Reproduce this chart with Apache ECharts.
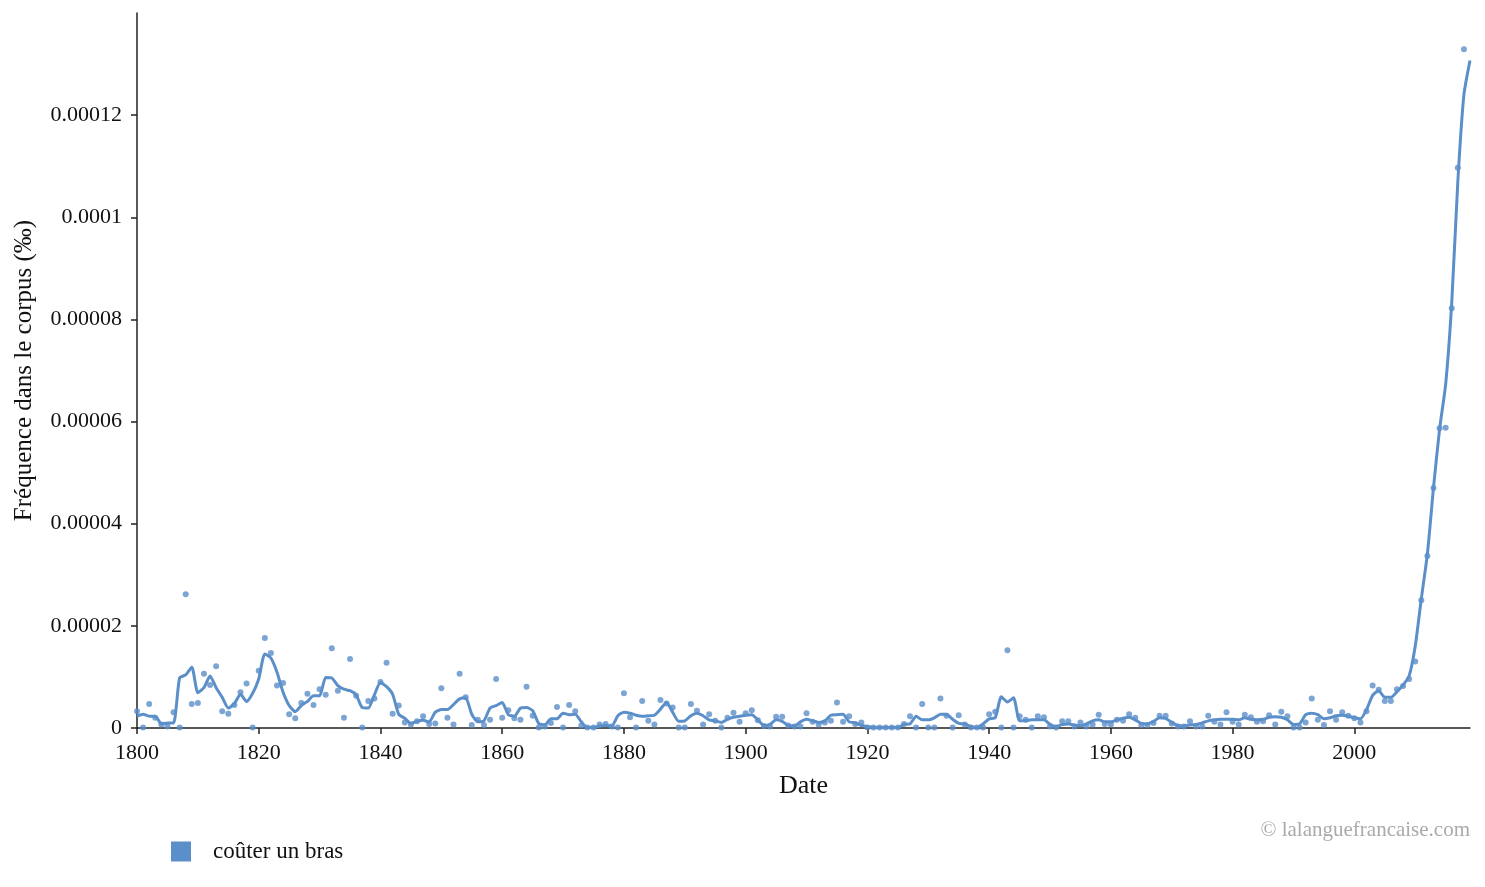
<!DOCTYPE html>
<html>
<head>
<meta charset="utf-8">
<script src="https://cdn.jsdelivr.net/npm/echarts@6/dist/echarts.min.js"></script>
<style>
  html, body { margin: 0; padding: 0; background: #fff; }
  #chart { width: 1485px; height: 887px; }
</style>
</head>
<body>
<div id="chart"></div>
<script>
// values are in units of 1e-5 ‰, one per year
const FIRST_YEAR = 1800
const UNIT = 1e-5

// yearly points (1800-2018)
const yearlyValues = [
  0.33, 0.01, 0.47, 0.20, 0.07, 0.03, 0.31, 0.01, 2.62, 0.47,
  0.49, 1.06, 0.84, 1.21, 0.33, 0.28, 0.45, 0.70, 0.87, 0.01,
  1.12, 1.76, 1.47, 0.83, 0.88, 0.27, 0.19, 0.49, 0.67, 0.45,
  0.76, 0.65, 1.56, 0.73, 0.20, 1.35, 0.63, 0.01, 0.53, 0.58,
  0.90, 1.28, 0.28, 0.44, 0.11, 0.07, 0.13, 0.23, 0.08, 0.09,
  0.78, 0.20, 0.07, 1.06, 0.60, 0.06, 0.16, 0.06, 0.16, 0.96,
  0.20, 0.35, 0.19, 0.16, 0.81, 0.24, 0.01, 0.03, 0.10, 0.41,
  0.01, 0.45, 0.33, 0.05, 0.01, 0.01, 0.07, 0.08, 0.03, 0.01,
  0.68, 0.21, 0.01, 0.53, 0.14, 0.07, 0.55, 0.48, 0.40, 0.01,
  0.01, 0.47, 0.34, 0.07, 0.27, 0.14, 0.01, 0.20, 0.30, 0.12,
  0.29, 0.35, 0.15, 0.04, 0.03, 0.22, 0.22, 0.05, 0.03, 0.03,
  0.29, 0.12, 0.07, 0.11, 0.14, 0.50, 0.12, 0.23, 0.08, 0.11,
  0.01, 0.01, 0.01, 0.01, 0.01, 0.01, 0.08, 0.23, 0.01, 0.47,
  0.01, 0.01, 0.58, 0.24, 0.01, 0.25, 0.07, 0.01, 0.01, 0.01,
  0.27, 0.32, 0.01, 1.52, 0.01, 0.23, 0.16, 0.01, 0.23, 0.21,
  0.03, 0.01, 0.13, 0.13, 0.03, 0.11, 0.03, 0.07, 0.26, 0.08,
  0.07, 0.16, 0.14, 0.27, 0.20, 0.06, 0.06, 0.10, 0.24, 0.24,
  0.09, 0.03, 0.03, 0.13, 0.03, 0.03, 0.24, 0.12, 0.07, 0.31,
  0.12, 0.07, 0.26, 0.21, 0.12, 0.13, 0.25, 0.07, 0.32, 0.23,
  0.01, 0.01, 0.11, 0.58, 0.16, 0.06, 0.33, 0.16, 0.31, 0.24,
  0.19, 0.11, 0.33, 0.83, 0.75, 0.53, 0.53, 0.76, 0.82, 0.96,
  1.30, 2.50, 3.37, 4.70, 5.87, 5.88, 8.22, 10.97, 13.29
]

// smoothed curve (1800-2019)
const smoothValues = [
  0.23, 0.27, 0.23, 0.23, 0.08, 0.10, 0.10, 0.98, 1.04, 1.19,
  0.69, 0.79, 1.02, 0.79, 0.60, 0.39, 0.48, 0.66, 0.52, 0.68,
  0.96, 1.45, 1.37, 1.09, 0.70, 0.44, 0.32, 0.44, 0.52, 0.63,
  0.63, 0.99, 0.98, 0.83, 0.76, 0.73, 0.65, 0.40, 0.39, 0.65,
  0.89, 0.81, 0.66, 0.27, 0.19, 0.09, 0.13, 0.15, 0.12, 0.31,
  0.36, 0.36, 0.46, 0.57, 0.59, 0.27, 0.12, 0.14, 0.39, 0.44,
  0.50, 0.26, 0.23, 0.39, 0.40, 0.34, 0.09, 0.06, 0.18, 0.18,
  0.29, 0.26, 0.27, 0.12, 0.01, 0.01, 0.04, 0.05, 0.04, 0.24,
  0.31, 0.29, 0.25, 0.23, 0.24, 0.25, 0.37, 0.50, 0.31, 0.13,
  0.14, 0.24, 0.29, 0.24, 0.16, 0.14, 0.11, 0.17, 0.21, 0.23,
  0.25, 0.26, 0.16, 0.05, 0.07, 0.16, 0.13, 0.05, 0.04, 0.12,
  0.17, 0.14, 0.11, 0.14, 0.25, 0.26, 0.27, 0.12, 0.10, 0.05,
  0.03, 0.01, 0.01, 0.01, 0.01, 0.01, 0.07, 0.08, 0.23, 0.16,
  0.16, 0.20, 0.27, 0.27, 0.17, 0.09, 0.08, 0.03, 0.01, 0.08,
  0.18, 0.20, 0.61, 0.51, 0.59, 0.14, 0.14, 0.16, 0.16, 0.16,
  0.07, 0.03, 0.07, 0.08, 0.06, 0.04, 0.08, 0.14, 0.16, 0.12,
  0.12, 0.16, 0.19, 0.21, 0.16, 0.09, 0.08, 0.13, 0.20, 0.19,
  0.11, 0.05, 0.04, 0.06, 0.07, 0.10, 0.14, 0.16, 0.17, 0.17,
  0.17, 0.16, 0.20, 0.17, 0.16, 0.17, 0.21, 0.22, 0.21, 0.16,
  0.07, 0.08, 0.26, 0.29, 0.26, 0.18, 0.20, 0.24, 0.25, 0.23,
  0.20, 0.18, 0.36, 0.64, 0.73, 0.60, 0.60, 0.71, 0.84, 1.02,
  1.60, 2.53, 3.41, 4.70, 5.85, 6.73, 8.33, 10.70, 12.40, 13.07
]

const xTicks = [1800, 1820, 1840, 1860, 1880, 1900, 1920, 1940, 1960, 1980, 2000]
const yTicks = [0, 0.00002, 0.00004, 0.00006, 0.00008, 0.0001, 0.00012]

const seriesName = 'coûter un bras'
const BLUE = '#5b8fc9'
const FONT = '"Liberation Serif", "Times New Roman", serif'

const toPairs = (vals) => vals.map((v, i) => [FIRST_YEAR + i, v * UNIT])

const chart = echarts.init(document.getElementById('chart'), null, { renderer: 'canvas' })

chart.setOption({
  backgroundColor: '#fff',
  animation: false,
  textStyle: { fontFamily: FONT },
  grid: { left: 137, right: 15, top: 13, bottom: 159, containLabel: false },
  legend: {
    left: 166,
    top: 835,
    icon: 'rect',
    itemWidth: 20,
    itemHeight: 20,
    data: [seriesName],
    textStyle: { fontFamily: FONT, fontSize: 23, color: '#111', padding: [0, 0, 0, 17] }
  },
  graphic: [{
    type: 'text',
    right: 15,
    top: 820,
    style: { text: '© lalanguefrancaise.com', fill: '#aaa', font: '21px ' + FONT }
  }],
  xAxis: {
    type: 'value',
    min: 1800,
    max: 2019,
    name: 'Date',
    nameLocation: 'middle',
    nameGap: 45,
    nameTextStyle: { fontFamily: FONT, fontSize: 26, color: '#111' },
    axisLine: { lineStyle: { color: '#222', width: 1.5 } },
    axisTick: { length: 6, lineStyle: { color: '#222', width: 1.5 }, customValues: xTicks },
    axisLabel: {
      fontFamily: FONT, fontSize: 22, color: '#111', margin: 14,
      customValues: xTicks,
      formatter: (v) => String(v)
    },
    splitLine: { show: false }
  },
  yAxis: {
    type: 'value',
    min: 0,
    max: 0.00014,
    name: 'Fréquence dans le corpus (‰)',
    nameLocation: 'middle',
    nameRotate: 90,
    nameGap: 100,
    nameTextStyle: { fontFamily: FONT, fontSize: 25, color: '#111' },
    axisLine: { show: true, lineStyle: { color: '#222', width: 1.5 } },
    axisTick: { show: true, length: 6, lineStyle: { color: '#222', width: 1.5 }, customValues: yTicks },
    axisLabel: {
      fontFamily: FONT, fontSize: 22, color: '#111', margin: 15,
      customValues: yTicks,
      formatter: (v) => String(+v.toFixed(5))
    },
    splitLine: { show: false }
  },
  series: [
    {
      name: seriesName + ' (points)',
      type: 'scatter',
      symbolSize: 6,
      itemStyle: { color: BLUE, opacity: 0.8 },
      data: toPairs(yearlyValues),
      z: 2
    },
    {
      name: seriesName,
      type: 'line',
      smooth: 0.2,
      showSymbol: false,
      symbol: 'none',
      lineStyle: { color: BLUE, width: 3 },
      itemStyle: { color: BLUE },
      data: toPairs(smoothValues),
      z: 3
    }
  ]
})
</script>
</body>
</html>
